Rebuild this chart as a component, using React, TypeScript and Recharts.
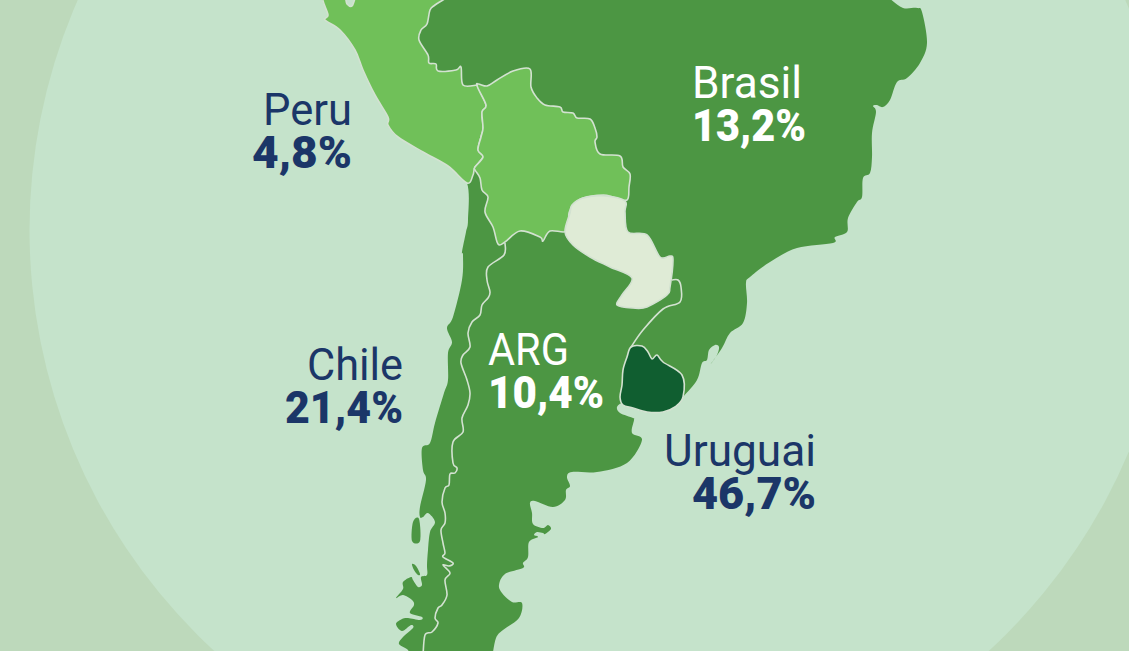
import React from 'react';
import { ScatterChart, Scatter, XAxis, YAxis, ReferenceDot } from 'recharts';

type Pt = [number, number];

// contornos, en pixeles de la referencia
const peruNotch: Pt[] = [
  [360, -8], [356, -4], [352, 6], [347, 4], [343, -4],
];
const peruCoast: Pt[] = [
  [323, -4], [328, 15], [325, 20], [340, 30], [355, 50], [363, 70], [375, 95], [388, 117], [388, 125],
  [398, 137], [423, 152], [448, 166], [467, 183],
];
const chileCoast: Pt[] = [
  [468, 220], [466, 232], [462, 252], [463, 255], [462, 280], [453, 317], [447, 328], [452, 342], [448, 353],
  [448, 380], [444, 393], [435, 423], [430, 443], [422, 448], [423, 470], [426, 480], [420, 507], [420, 517],
  [423, 517], [428, 513], [435, 522], [430, 532], [428, 550], [427, 565], [427, 575], [421, 577], [422, 585],
  [418, 587], [413, 580], [411, 577], [403, 582], [403, 589], [396, 598], [403, 595], [412, 600], [414, 605],
  [410, 613], [422, 617], [420, 620], [408, 618], [402, 619], [396, 624], [402, 631], [411, 625], [413, 628],
  [403, 637], [399, 644], [408, 650], [408, 656], [412, 660], [488, 660],
];
const argentinaCoast: Pt[] = [
  [492, 656], [496, 638], [503, 630], [519, 618], [522, 603], [512, 602], [502, 593], [499, 585], [505, 574],
  [523, 568], [523, 563], [528, 557], [529, 542], [538, 537], [534, 535], [537, 532], [543, 533], [545, 534],
  [551, 529], [548, 525], [543, 528], [533, 524], [532, 513], [530, 503], [535, 501], [553, 507], [565, 500],
  [566, 490], [570, 486], [567, 477], [572, 472], [597, 472], [627, 463], [642, 440], [632, 433], [634, 420],
  [633, 418], [620, 413], [617, 407], [623, 403],
];
const uruguaySouth: Pt[] = [
  [633, 408], [647, 412], [663, 412], [675, 407], [683, 397],
];
const brasilCoast: Pt[] = [
  [697, 380], [702, 363], [707, 360], [709, 350], [715, 345], [719, 347], [717, 355], [710, 365], [722, 348],
  [730, 333], [743, 323], [747, 303], [746, 283], [750, 277], [770, 262], [797, 248], [833, 243], [835, 237],
  [847, 232], [848, 218], [857, 202], [862, 197], [863, 178], [870, 173], [872, 157], [872, 133], [876, 112],
  [873, 106], [877, 105], [883, 107], [890, 100], [897, 82], [907, 78], [920, 63], [927, 43], [922, 12],
  [917, 8], [903, 8], [890, -1], [880, -6], [870, -8],
];
const peruNorthBorder: Pt[] = [
  [440, -8], [448, -4], [435, 5], [430, 10], [427, 24], [421, 30], [419, 40], [428, 55], [429, 63], [436, 64], [438, 71],
  [456, 70], [461, 67], [463, 85], [477, 85],
];
const peruBoliviaBorder: Pt[] = [
  [486, 105], [482, 112], [483, 128], [481, 137], [478, 150], [483, 157], [475, 167],
];
const boliviaNorthBorder: Pt[] = [
  [487, 86], [497, 80], [513, 71], [530, 69], [531, 87], [537, 98], [545, 105], [560, 107], [563, 112], [573, 113],
  [577, 118], [590, 119], [595, 128], [597, 137], [595, 142], [600, 154], [620, 156], [623, 167], [630, 174],
  [629, 187], [627, 200],
];
const boliviaSouthBorder: Pt[] = [
  [613, 197], [603, 195], [583, 198], [573, 205], [569, 213], [567, 231], [550, 231], [543, 241], [540, 237],
  [520, 231], [505, 242], [498, 244], [493, 227], [485, 212], [488, 197], [482, 190], [480, 178],
];
const paraguayOutline: Pt[] = [
  [565, 232], [570, 213], [572, 205], [583, 198], [605, 196], [625, 201], [625, 212], [628, 232], [647, 235],
  [660, 257], [670, 256], [673, 260], [670, 287], [667, 295], [647, 307], [633, 308], [617, 305], [622, 295],
  [632, 278], [610, 267], [590, 257], [573, 245],
];
const uruguayOutline: Pt[] = [
  [631, 347], [642, 346], [648, 352], [652, 359], [657, 355], [663, 362], [682, 375], [683, 397], [675, 407],
  [663, 412], [647, 412], [633, 408], [623, 405], [620, 397], [622, 385], [623, 370], [627, 357],
];
const chiloeIsland: Pt[] = [
  [413, 522], [419, 519], [420, 541], [412, 541],
];
const smallIsland: Pt[] = [
  [412, 564], [416, 566], [420, 574], [418, 575], [414, 570],
];
const chileArgentinaBorder: Pt[] = [
  [505, 243], [504, 255], [488, 267], [487, 280], [490, 292], [488, 298], [482, 305], [480, 315], [472, 322],
  [468, 333], [470, 347], [463, 355], [461, 363], [467, 380], [470, 393], [468, 405], [462, 418], [463, 432],
  [453, 442], [453, 463], [457, 468], [455, 473], [450, 474], [449, 485], [445, 488], [442, 502], [445, 513],
  [445, 523], [441, 530], [443, 543], [445, 553], [443, 557], [453, 563], [449, 566], [443, 565], [450, 573],
  [445, 580], [447, 595], [442, 605], [438, 608], [435, 618], [438, 623], [432, 632], [425, 635], [423, 656],
];
const argentinaBrasilBorder: Pt[] = [
  [672, 280], [678, 280], [681, 287], [680, 302], [663, 309], [643, 330], [631, 347],
];

const peruOutline: Pt[] = [
  ...peruNotch, ...peruCoast, [473, 175], ...peruBoliviaBorder.slice().reverse(), [477, 85],
  ...peruNorthBorder.slice().reverse(),
];
const boliviaOutline: Pt[] = [
  [477, 85], ...boliviaNorthBorder, ...boliviaSouthBorder, [475, 170], ...peruBoliviaBorder.slice().reverse(),
];
const continentOutline: Pt[] = [
  ...peruNotch, ...peruCoast, ...chileCoast, ...argentinaCoast, ...uruguaySouth, ...brasilCoast,
];

const labelNames = ['Brasil', 'Peru', 'ARG', 'Chile', 'Uruguai'];
const labelValues = ['13,2%', '4,8%', '10,4%', '21,4%', '46,7%'];
const labelX = [692, 352, 488, 403, 816];
const labelY = [98, 125, 365, 380, 466];
// anchos medidos en la referencia (la fuente original no esta instalada)
const nameWidths = [110, 89, 81, 96, 152];
const valueWidths = [114, 100, 116, 118, 124];

const BG = '#bdd9bb';
const CIRCLE = '#c5e3cb';
const DARK = '#4c9643';
const LIME = '#70c059';
const PALE = '#dfebd6';
const DEEP = '#105e30';
const EDGE = '#d3e2d1';
const NAVY = '#1b3668';

const toPoints = (list: Pt[]) => list.map(([x, y]) => ({ x, y }));

// catmull-rom para que las costas no queden quebradas
const smoothPath = (pts: { x: number; y: number }[], closed: boolean) => {
  const n = pts.length;
  const at = (i: number) => (closed ? pts[(i + n) % n] : pts[Math.max(0, Math.min(n - 1, i))]);
  let d = `M${pts[0].x},${pts[0].y}`;
  const last = closed ? n : n - 1;
  for (let i = 0; i < last; i++) {
    const p0 = at(i - 1);
    const p1 = at(i);
    const p2 = at(i + 1);
    const p3 = at(i + 2);
    const c1x = p1.x + (p2.x - p0.x) / 6;
    const c1y = p1.y + (p2.y - p0.y) / 6;
    const c2x = p2.x - (p3.x - p1.x) / 6;
    const c2y = p2.y - (p3.y - p1.y) / 6;
    d += `C${c1x},${c1y} ${c2x},${c2y} ${p2.x},${p2.y}`;
  }
  return closed ? d + 'Z' : d;
};

const regions: { key: string; outline: Pt[]; fill: string; stroke: string }[] = [
  { key: 'continent', outline: continentOutline, fill: DARK, stroke: 'none' },
  { key: 'chiloe', outline: chiloeIsland, fill: DARK, stroke: 'none' },
  { key: 'island', outline: smallIsland, fill: DARK, stroke: 'none' },
  { key: 'peru', outline: peruOutline, fill: LIME, stroke: EDGE },
  { key: 'bolivia', outline: boliviaOutline, fill: LIME, stroke: EDGE },
  { key: 'paraguay', outline: paraguayOutline, fill: PALE, stroke: EDGE },
  { key: 'uruguay', outline: uruguayOutline, fill: DEEP, stroke: EDGE },
];
const borders = [chileArgentinaBorder, argentinaBrasilBorder];

const labelData = labelNames.map((name, i) => ({
  name,
  value: labelValues[i],
  x: labelX[i],
  y: labelY[i],
  nameWidth: nameWidths[i],
  valueWidth: valueWidths[i],
  onMap: name === 'Brasil' || name === 'ARG',
}));

const noDot = () => <g />;

const MapLabel = ({ cx, cy, payload }: any) => {
  const anchor = payload.onMap ? 'start' : 'end';
  const fill = payload.onMap ? '#ffffff' : NAVY;
  return (
    <g fontFamily="Roboto, sans-serif" textAnchor={anchor} fill={fill}>
      <text x={cx} y={cy} fontSize={45} fontWeight={400} textLength={payload.nameWidth} lengthAdjust="spacingAndGlyphs">
        {payload.name}
      </text>
      <text x={cx} y={cy + 43} fontSize={44} fontWeight={900} textLength={payload.valueWidth} lengthAdjust="spacingAndGlyphs">
        {payload.value}
      </text>
    </g>
  );
};

export default function App() {
  return (
    <div style={{ position: 'absolute', left: 0, top: 0, width: 1129, height: 651, background: BG }}>
      <ScatterChart width={1129} height={651} margin={{ top: 0, right: 0, bottom: 0, left: 0 }}>
        <XAxis type="number" dataKey="x" domain={[0, 1129]} allowDataOverflow hide />
        <YAxis type="number" dataKey="y" domain={[0, 651]} allowDataOverflow reversed hide />
        <ReferenceDot x={601.5} y={230} r={572} fill={CIRCLE} stroke="none" ifOverflow="visible" />
        {regions.map((r) => (
          <Scatter
            key={r.key}
            data={toPoints(r.outline)}
            isAnimationActive={false}
            shape={noDot}
            line={(p: any) => (
              <path d={smoothPath(p.points, true)} fill={r.fill} stroke={r.stroke} strokeWidth={1.6} strokeLinejoin="round" />
            )}
          />
        ))}
        {borders.map((b, i) => (
          <Scatter
            key={i}
            data={toPoints(b)}
            isAnimationActive={false}
            shape={noDot}
            line={(p: any) => <path d={smoothPath(p.points, false)} fill="none" stroke={EDGE} strokeWidth={1.6} />}
          />
        ))}
        <Scatter data={labelData} isAnimationActive={false} shape={MapLabel} />
      </ScatterChart>
    </div>
  );
}
